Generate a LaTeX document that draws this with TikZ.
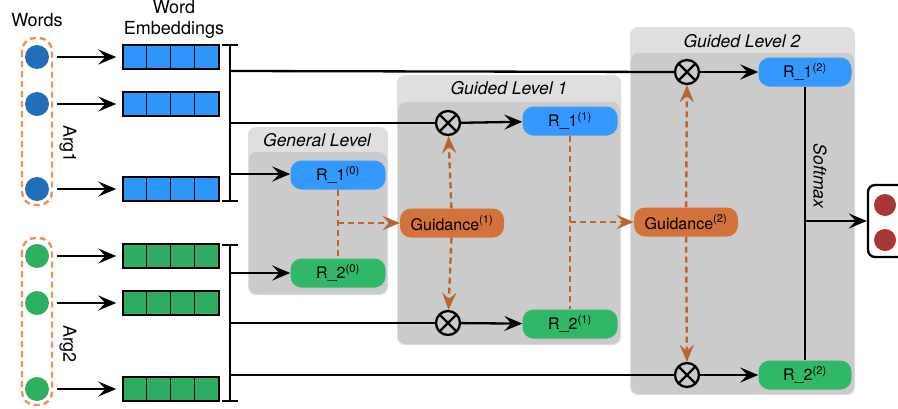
\documentclass[tikz,border=0pt]{standalone}
\usepackage{fontspec}
\setmainfont{TeX Gyre Heros}
\usetikzlibrary{arrows.meta,positioning}

\definecolor{wordblue}{RGB}{33,110,185}
\definecolor{embblue}{RGB}{46,149,250}
\definecolor{wordgreen}{RGB}{45,176,96}
\definecolor{embgreen}{RGB}{46,173,98}
\definecolor{repblue}{RGB}{51,153,255}
\definecolor{repgreen}{RGB}{48,184,104}
\definecolor{guidefill}{RGB}{212,114,60}
\definecolor{guideline}{RGB}{184,101,47}
\definecolor{argline}{RGB}{245,144,79}
\definecolor{outred}{RGB}{168,54,54}
\definecolor{panelout}{RGB}{223,223,223}
\definecolor{panelin}{RGB}{203,203,203}

\begin{document}
\begin{tikzpicture}[x=1pt, y=-1pt,
	>={Stealth[length=18pt,width=15pt,inset=7pt]},
	flow/.style={line width=2.3pt},
	guide/.style={line width=2.4pt, draw=guideline, dash pattern=on 6pt off 4pt},
	guidearrow/.style={guide, -{Stealth[length=17pt,width=14pt,inset=6pt,fill=guideline]}},
	rep/.style={rounded corners=11pt, minimum width=95pt, minimum height=29pt, inner sep=0pt, font=\fontsize{16}{17}\selectfont},
	rone/.style={rep, fill=repblue},
	rtwo/.style={rep, fill=repgreen},
	guidance/.style={rep, fill=guidefill, minimum width=104pt},
	mult/.style={circle, draw, line width=2.3pt, minimum size=24pt, inner sep=0pt,
		path picture={\draw[line width=2.3pt] (path picture bounding box.north west) -- (path picture bounding box.south east)
			(path picture bounding box.north east) -- (path picture bounding box.south west);}},
	word/.style={circle, minimum size=24pt, inner sep=0pt},
	embbar/.style={draw, line width=1.5pt, minimum width=96pt, minimum height=24pt, inner sep=0pt},
	argbox/.style={draw=argline, line width=2.4pt, dash pattern=on 6pt off 4pt, rounded corners=13pt},
	paneltitle/.style={font=\fontsize{17.5}{19}\selectfont\itshape},
	heading/.style={font=\fontsize{18}{21}\selectfont, align=center}]
	
	\useasboundingbox (0,0) rectangle (898,408);
	
	% Panels of the three levels
	\fill[panelout, rounded corners=8pt] (248,127) rectangle (388,295);
	\fill[panelin, rounded corners=8pt] (249,152) rectangle (387,294);
	\node[paneltitle] (tgen) at (317,140) {General Level};
	
	\fill[panelout, rounded corners=8pt] (397,75) rectangle (621,345);
	\fill[panelin, rounded corners=8pt] (398,102) rectangle (620,344);
	\node[paneltitle] (tgl1) at (509,88) {Guided Level 1};
	
	\fill[panelout, rounded corners=8pt] (630,27) rectangle (855,395);
	\fill[panelin, rounded corners=8pt] (631,53) rectangle (854,394);
	\node[paneltitle] (tgl2) at (742,41) {Guided Level 2};
	
	% Headings
	\node[heading] (hwords) at (37,20) {Words};
	\node[heading, inner sep=1pt] (hemb) at (174,19) {Word\\Embeddings};
	
	% Argument groups
	\draw[argbox] (22,38) rectangle (52,205);
	\draw[argbox] (22,238) rectangle (52,405);
	\node[heading, rotate=-90] (arg1) at (68,144) {Arg1};
	\node[heading, rotate=-90] (arg2) at (68,344) {Arg2};
	
	% Words and their embeddings
	\foreach \n/\y/\wc/\ec in {a1/57/wordblue/embblue, a2/104/wordblue/embblue, a3/189/wordblue/embblue,
		b1/256/wordgreen/embgreen, b2/303/wordgreen/embgreen, b3/389/wordgreen/embgreen}{
		\node[word, fill=\wc] (w\n) at (37,\y) {};
		\node[embbar, fill=\ec] (e\n) at (171,\y) {};
		\foreach \k in {1,2,3}
			\draw[line width=1.5pt] ([xshift=\k*24pt]e\n.north west) -- ([xshift=\k*24pt]e\n.south west);
		\draw[flow, ->, shorten <=8pt, shorten >=6pt] (w\n) -- (e\n);
	}
	
	% Brackets collecting the embeddings
	\draw[flow] (222,45) -- (238,45) (230,45) -- (230,201) (222,201) -- (238,201);
	\draw[flow] (222,245) -- (238,245) (230,245) -- (230,401) (222,401) -- (238,401);
	\coordinate (ba1) at (230,71);
	\coordinate (ba2) at (230,123);
	\coordinate (ba3) at (230,174);
	\coordinate (bb1) at (230,273);
	\coordinate (bb2) at (230,323);
	\coordinate (bb3) at (230,375);
	
	% Representations and guidance
	\node[rone] (r10) at (338,175) {R\_1\textsuperscript{(0)}};
	\node[rtwo] (r20) at (338,273) {R\_2\textsuperscript{(0)}};
	
	\node[mult] (m11) at (448,123) {};
	\node[mult] (m12) at (448,323) {};
	\node[guidance] (g1) at (452,223) {Guidance\textsuperscript{(1)}};
	\node[rone] (r11) at (570,121) {R\_1\textsuperscript{(1)}};
	\node[rtwo] (r21) at (570,324) {R\_2\textsuperscript{(1)}};
	
	\node[mult] (m21) at (687,72) {};
	\node[mult] (m22) at (687,375) {};
	\node[guidance] (g2) at (686,222) {Guidance\textsuperscript{(2)}};
	\node[rone, minimum width=93pt] (r12) at (805,72) {R\_1\textsuperscript{(2)}};
	\node[rtwo, minimum width=93pt] (r22) at (805,375) {R\_2\textsuperscript{(2)}};
	
	% Output
	\node[draw, line width=2.3pt, rounded corners=7pt, minimum width=46pt, minimum height=72pt] (out) at (891,221) {};
	\node[word, fill=outred, minimum size=22pt] (o1) at (885,205) {};
	\node[word, fill=outred, minimum size=22pt] (o2) at (885,240) {};
	
	% Connections from the embeddings
	\draw[flow] (ba1) -- (m21.west);
	\draw[flow] (ba2) -- (m11.west);
	\draw[flow, ->] (ba3) -- (ba3 -| r10.west);
	\draw[flow, ->] (bb1) -- (bb1 -| r20.west);
	\draw[flow] (bb2) -- (m12.west);
	\draw[flow] (bb3) -- (m22.west);
	
	\draw[flow, ->] (m11) -- (r11);
	\draw[flow, ->] (m12) -- (r21);
	\draw[flow, ->] (m21) -- (r12);
	\draw[flow, ->] (m22) -- (r22);
	
	% Guidance paths
	\draw[guide] (r10) -- (r20);
	\draw[guidearrow] (r10.south |- g1) -- (g1.west);
	\draw[guidearrow] (g1) -- (m11);
	\draw[guidearrow] (g1) -- (m12);
	\draw[guide] (r11) -- (r21);
	\draw[guidearrow] (r11.south |- g2) -- (g2.west);
	\draw[guidearrow] (g2) -- (m21);
	\draw[guidearrow] (g2) -- (m22);
	
	% Softmax
	\draw[flow] (r12) -- (r22);
	\draw[flow, ->] (r12.south |- out) -- (out.west);
	\node[paneltitle, rotate=-90] (soft) at (820,176) {Softmax};
	
\end{tikzpicture}
\end{document}
